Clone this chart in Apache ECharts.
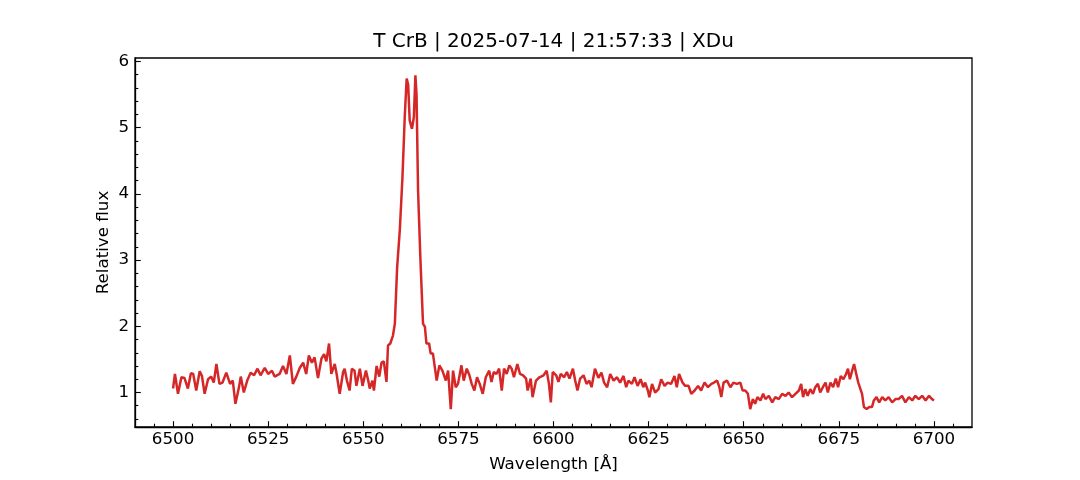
<!DOCTYPE html>
<html>
<head>
<meta charset="utf-8">
<script src="https://cdn.jsdelivr.net/npm/echarts@6/dist/echarts.min.js"></script>
<style>html,body{margin:0;padding:0;background:#fff;}#c{width:1080px;height:480px;}</style>
</head>
<body>
<div id="c"></div>
<script>
const titleText = 'T CrB | 2025-07-14 | 21:57:33 | XDu';
const xMajorTicks = [6500, 6525, 6550, 6575, 6600, 6625, 6650, 6675, 6700];
const xMinorTicks = [6495, 6505, 6510, 6515, 6520, 6530, 6535, 6540, 6545, 6555, 6560, 6565, 6570, 6580, 6585, 6590, 6595, 6605, 6610, 6615, 6620, 6630, 6635, 6640, 6645, 6655, 6660, 6665, 6670, 6680, 6685, 6690, 6695, 6705];
const yMajorTicks = [1, 2, 3, 4, 5, 6];
const yMinorTicks = [0.6, 0.8, 1.2, 1.4, 1.6, 1.8, 2.2, 2.4, 2.6, 2.8, 3.2, 3.4, 3.6, 3.8, 4.2, 4.4, 4.6, 4.8, 5.2, 5.4, 5.6, 5.8];

const wavelength = [
6500.0,6500.5,6501.3,6502.2,6503.0,6503.9,6504.7,6505.3,6506.1,6507.0,6507.6,6508.3,6509.2,6510.0,6510.7,6511.4,6512.2,6513.0,6514.0,6515.0,
6515.7,6516.4,6517.3,6517.8,6518.6,6519.5,6520.4,6521.3,6522.2,6523.0,6524.1,6525.0,6526.0,6526.7,6528.0,6528.9,6529.8,6530.7,6531.5,6532.4,
6533.3,6534.2,6535.0,6535.7,6536.5,6537.2,6538.1,6539.0,6539.7,6540.3,6541.0,6541.6,6542.5,6543.0,6543.8,6544.7,6545.1,6545.7,6546.4,6547.0,
6547.7,6548.2,6549.1,6549.8,6550.7,6551.3,6551.7,6552.4,6552.8,6553.5,6554.2,6554.8,6555.4,6556.1,6556.5,6557.1,6557.8,6558.3,6558.9,6559.6,
6560.3,6560.9,6561.4,6561.8,6562.2,6562.8,6563.3,6563.7,6564.0,6564.4,6565.0,6565.7,6566.2,6566.6,6567.3,6567.7,6568.3,6569.3,6570.0,6570.8,
6571.7,6572.3,6573.0,6573.6,6574.3,6574.9,6575.8,6576.4,6577.2,6577.9,6578.5,6579.2,6579.9,6580.6,6581.4,6582.2,6583.1,6583.7,6584.3,6585.0,
6585.7,6586.4,6587.0,6587.7,6588.4,6589.0,6589.6,6590.5,6591.2,6592.0,6592.8,6593.2,6594.0,6594.5,6595.4,6596.3,6597.4,6598.2,6598.8,6599.3,
6599.8,6600.7,6601.3,6601.9,6602.8,6603.5,6604.2,6605.1,6605.7,6606.3,6607.0,6607.9,6608.7,6609.4,6610.0,6610.9,6611.8,6612.6,6613.3,6614.1,
6614.9,6615.8,6616.7,6617.5,6618.4,6619.1,6619.7,6620.6,6621.3,6622.1,6622.9,6623.6,6624.1,6624.8,6625.2,6625.9,6626.7,6627.6,6628.3,6629.2,
6630.0,6630.9,6631.8,6632.4,6633.0,6633.9,6634.6,6635.5,6636.2,6637.1,6638.0,6638.8,6639.7,6640.6,6641.5,6642.2,6643.0,6643.6,6644.1,6644.7,
6645.6,6646.5,6647.3,6648.2,6649.1,6649.7,6650.4,6651.1,6651.7,6652.4,6653.0,6653.6,6654.4,6655.1,6655.7,6656.6,6657.5,6658.3,6659.2,6660.1,
6661.0,6661.8,6662.7,6663.6,6664.5,6665.1,6665.6,6666.2,6666.8,6667.5,6668.2,6668.8,6669.5,6670.1,6670.8,6671.5,6672.1,6672.8,6673.5,6674.2,
6674.8,6675.5,6676.2,6676.9,6677.4,6677.9,6678.5,6679.0,6679.5,6680.1,6680.6,6681.1,6681.6,6682.3,6683.0,6683.7,6684.2,6684.9,6685.6,6686.4,
6687.2,6688.1,6689.0,6689.9,6690.7,6691.6,6692.5,6693.4,6694.3,6695.1,6696.0,6696.9,6697.8,6698.7,6699.5,6700.0
];
const flux = [
1.06,1.28,0.98,1.23,1.22,1.06,1.29,1.28,1.03,1.32,1.25,0.98,1.20,1.24,1.15,1.43,1.13,1.15,1.30,1.13,
1.18,0.83,1.07,1.24,1.00,1.18,1.30,1.26,1.36,1.26,1.37,1.28,1.33,1.24,1.28,1.40,1.28,1.56,1.13,1.24,
1.37,1.45,1.28,1.56,1.45,1.53,1.22,1.51,1.58,1.47,1.74,1.28,1.43,1.28,0.98,1.31,1.36,1.18,1.03,1.36,
1.33,1.10,1.36,1.10,1.33,1.18,1.06,1.18,1.03,1.40,1.24,1.45,1.47,1.16,1.71,1.74,1.86,2.04,2.89,3.45,
4.25,5.16,5.74,5.65,5.11,4.98,5.16,5.79,5.50,4.05,3.04,2.04,1.99,1.74,1.74,1.59,1.59,1.18,1.41,1.33,
1.18,1.33,0.75,1.33,1.08,1.13,1.41,1.18,1.36,1.26,1.13,1.03,1.23,1.13,0.98,1.23,1.33,1.16,1.31,1.28,
1.36,1.03,1.36,1.28,1.41,1.36,1.23,1.43,1.28,1.26,1.21,1.03,1.21,0.93,1.18,1.23,1.26,1.33,1.13,0.85,
1.31,1.26,1.16,1.28,1.23,1.31,1.21,1.36,1.18,1.03,1.21,1.26,1.13,1.18,1.08,1.36,1.22,1.30,1.15,1.08,
1.28,1.18,1.23,1.15,1.25,1.08,1.18,1.13,1.23,1.10,1.20,1.08,1.15,1.03,0.93,1.13,1.00,1.05,1.20,1.10,
1.15,1.13,1.25,1.08,1.28,1.15,1.10,1.10,0.98,1.03,1.10,1.03,1.15,1.08,1.13,1.15,1.18,1.08,0.93,1.15,
1.18,1.08,1.15,1.13,1.15,1.03,1.03,0.98,0.75,0.90,0.83,0.93,0.88,0.98,0.90,0.95,0.85,0.93,0.90,0.98,
0.95,1.00,0.93,0.98,1.03,1.13,0.93,1.05,0.95,1.05,0.98,1.08,1.13,1.00,1.08,1.15,1.00,1.15,1.08,1.21,
1.08,1.25,1.20,1.28,1.36,1.20,1.33,1.43,1.30,1.15,1.13,0.98,0.78,0.75,0.78,0.78,0.88,0.93,0.85,0.93,
0.88,0.93,0.85,0.90,0.90,0.95,0.85,0.93,0.88,0.95,0.90,0.95,0.88,0.95,0.90,0.88
];

const FONT = 'DejaVu Sans';
const chart = echarts.init(document.getElementById('c'), null, {renderer: 'canvas'});
const X_MIN = 6490, X_MAX = 6710, Y_MIN = 0.479, Y_MAX = 6.051;

function minorAxis(min, max, ticks, pos) {
  return {
    type: 'value', min: min, max: max, position: pos,
    axisLine: {show: false}, splitLine: {show: false},
    axisLabel: {show: false},
    axisTick: {show: true, inside: true, length: 3.3, customValues: ticks, lineStyle: {color: '#000', width: 1.1}}
  };
}

chart.setOption({
  animation: false,
  backgroundColor: '#fff',
  title: {
    text: titleText, left: 553.5, textAlign: 'center', top: 32, padding: 0,
    textStyle: {fontFamily: FONT, fontSize: 20, fontWeight: 'normal', color: '#000'}
  },
  grid: {left: 135, right: 108, top: 58, bottom: 53, show: true, borderColor: '#000', borderWidth: 1.3, backgroundColor: 'transparent', containLabel: false},
  xAxis: [{
    type: 'value', min: X_MIN, max: X_MAX, position: 'bottom',
    name: 'Wavelength [Å]', nameLocation: 'middle', nameGap: 29, nameMoveOverlap: false,
    nameTextStyle: {fontFamily: FONT, fontSize: 16.7, color: '#000'},
    axisLine: {show: true, lineStyle: {color: '#000', width: 1.3}},
    splitLine: {show: false},
    axisTick: {show: true, inside: true, length: 5.8, customValues: xMajorTicks, lineStyle: {color: '#000', width: 1.1}},
    axisLabel: {show: true, customValues: xMajorTicks, margin: 4, fontFamily: FONT, fontSize: 16.7, color: '#000',
      formatter: v => String(v)}
  }, minorAxis(X_MIN, X_MAX, xMinorTicks, 'bottom')],
  yAxis: [{
    type: 'value', min: Y_MIN, max: Y_MAX, position: 'left',
    name: 'Relative flux', nameLocation: 'middle', nameGap: 23, nameMoveOverlap: false,
    nameTextStyle: {fontFamily: FONT, fontSize: 16.7, color: '#000'},
    axisLine: {show: true, lineStyle: {color: '#000', width: 1.3}},
    splitLine: {show: false},
    axisTick: {show: true, inside: true, length: 5.8, customValues: yMajorTicks, lineStyle: {color: '#000', width: 1.1}},
    axisLabel: {show: true, customValues: yMajorTicks, margin: 6, fontFamily: FONT, fontSize: 16.7, color: '#000',
      formatter: v => String(v)}
  }, minorAxis(Y_MIN, Y_MAX, yMinorTicks, 'left')],
  series: [{
    type: 'line', xAxisIndex: 0, yAxisIndex: 0,
    showSymbol: false, symbol: 'none',
    lineStyle: {color: '#d62728', width: 2.5},
    data: wavelength.map((w, i) => [w, flux[i]])
  }]
});
</script>
</body>
</html>
